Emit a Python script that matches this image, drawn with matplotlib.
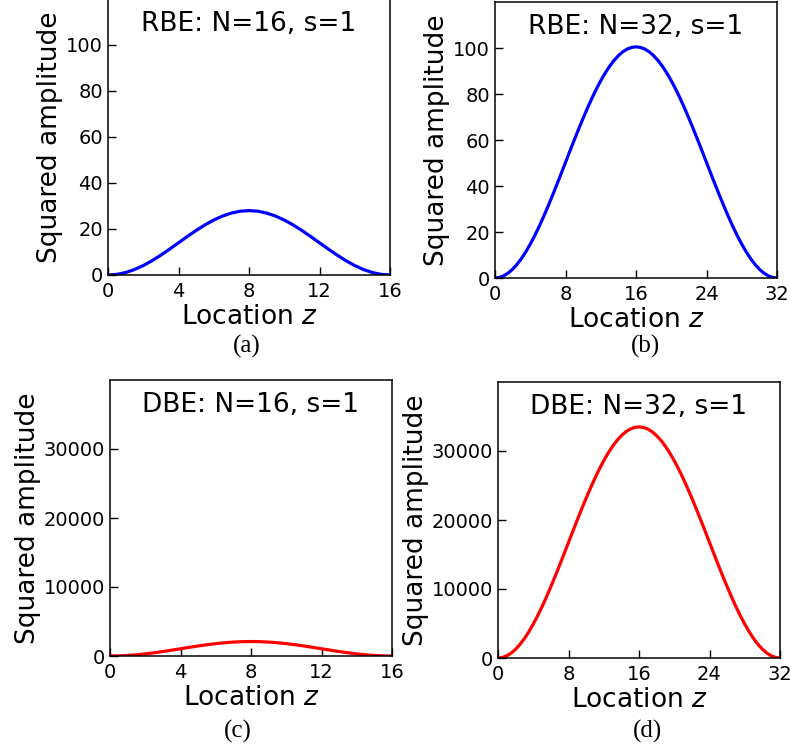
import matplotlib
matplotlib.use("Agg")
import matplotlib.pyplot as plt

# Location samples (half-unit steps)
z16 = [k * 0.5 for k in range(33)]
z32 = [k * 0.5 for k in range(65)]

# Squared amplitude (rising half; curves are symmetric)
rbe16_half = [0, 0.27, 1.07, 2.36, 4.10, 6.22, 8.64, 11.27, 14.0, 16.73,
              19.36, 21.78, 23.90, 25.64, 26.93, 27.73, 28.0]
rbe32_half = [0, 0.24, 0.97, 2.16, 3.83, 5.93, 8.47, 11.41, 14.72, 18.37,
              22.33, 26.56, 31.02, 35.66, 40.45, 45.32, 50.25, 55.18, 60.05,
              64.84, 69.48, 73.94, 78.17, 82.13, 85.78, 89.09, 92.03, 94.57,
              96.67, 98.34, 99.53, 100.26, 100.5]
dbe16_half = [0, 20, 80, 177, 307, 467, 648, 845, 1050, 1255, 1452, 1633,
              1793, 1923, 2020, 2080, 2100]
dbe32_half = [0, 81, 322, 721, 1275, 1978, 2823, 3802, 4906, 6124, 7444,
              8854, 10340, 11888, 13482, 15108, 16750, 18392, 20018, 21612,
              23160, 24646, 26056, 27376, 28594, 29698, 30677, 31522, 32225,
              32779, 33178, 33419, 33500]

rbe16 = rbe16_half + rbe16_half[-2::-1]
rbe32 = rbe32_half + rbe32_half[-2::-1]
dbe16 = dbe16_half + dbe16_half[-2::-1]
dbe32 = dbe32_half + dbe32_half[-2::-1]

xt16 = [0, 4, 8, 12, 16]
xt32 = [0, 8, 16, 24, 32]
yt_rbe = [0, 20, 40, 60, 80, 100]
yt_dbe = [0, 10000, 20000, 30000]

titles = ["RBE: N=16, s=1", "RBE: N=32, s=1", "DBE: N=16, s=1", "DBE: N=32, s=1"]
captions = ["(a)", "(b)", "(c)", "(d)"]

W, H = 790, 754
fig = plt.figure(figsize=(W / 100, H / 100), dpi=100)

# axes boxes in pixels: left, top, right, bottom
boxes = [(108, -1, 390, 275), (495, 2, 777, 278),
         (110, 380, 392, 656), (498, 382, 780, 658)]
panels = [
    (z16, rbe16, "blue", xt16, yt_rbe, 120, 16),
    (z32, rbe32, "blue", xt32, yt_rbe, 120, 32),
    (z16, dbe16, "red", xt16, yt_dbe, 40000, 16),
    (z32, dbe32, "red", xt32, yt_dbe, 40000, 32),
]
cap_pos = [(247, 346), (645, 346), (238, 731), (648, 731)]

for i, (box, p) in enumerate(zip(boxes, panels)):
    l, t, r, b = box
    ax = fig.add_axes([l / W, 1 - b / H, (r - l) / W, (b - t) / H])
    x, y, c, xt, yt, ymax, xmax = p
    ax.plot(x, y, color=c, lw=2.3, solid_joinstyle="round")
    ax.set_xlim(0, xmax)
    ax.set_ylim(0, ymax)
    ax.set_xticks(xt)
    ax.set_yticks(yt)
    ax.tick_params(direction="in", length=6, width=1, labelsize=14,
                   top=False, right=False)
    ax.tick_params(axis="y", pad=3.5)
    ax.tick_params(axis="x", pad=5)
    for s in ax.spines.values():
        s.set_linewidth(1.1)
    ax.set_xlabel("Location $z$", fontsize=19, labelpad=2)
    ax.set_ylabel("Squared amplitude", fontsize=19, labelpad=2)
    ax.text(0.5, 0.91, titles[i], transform=ax.transAxes, ha="center",
            va="center", fontsize=19)
    cx, cy = cap_pos[i]
    fig.text(cx / W, 1 - cy / H, captions[i], ha="center", va="center",
             fontsize=18, family="Liberation Serif")

fig.savefig("out.png", dpi=100)
